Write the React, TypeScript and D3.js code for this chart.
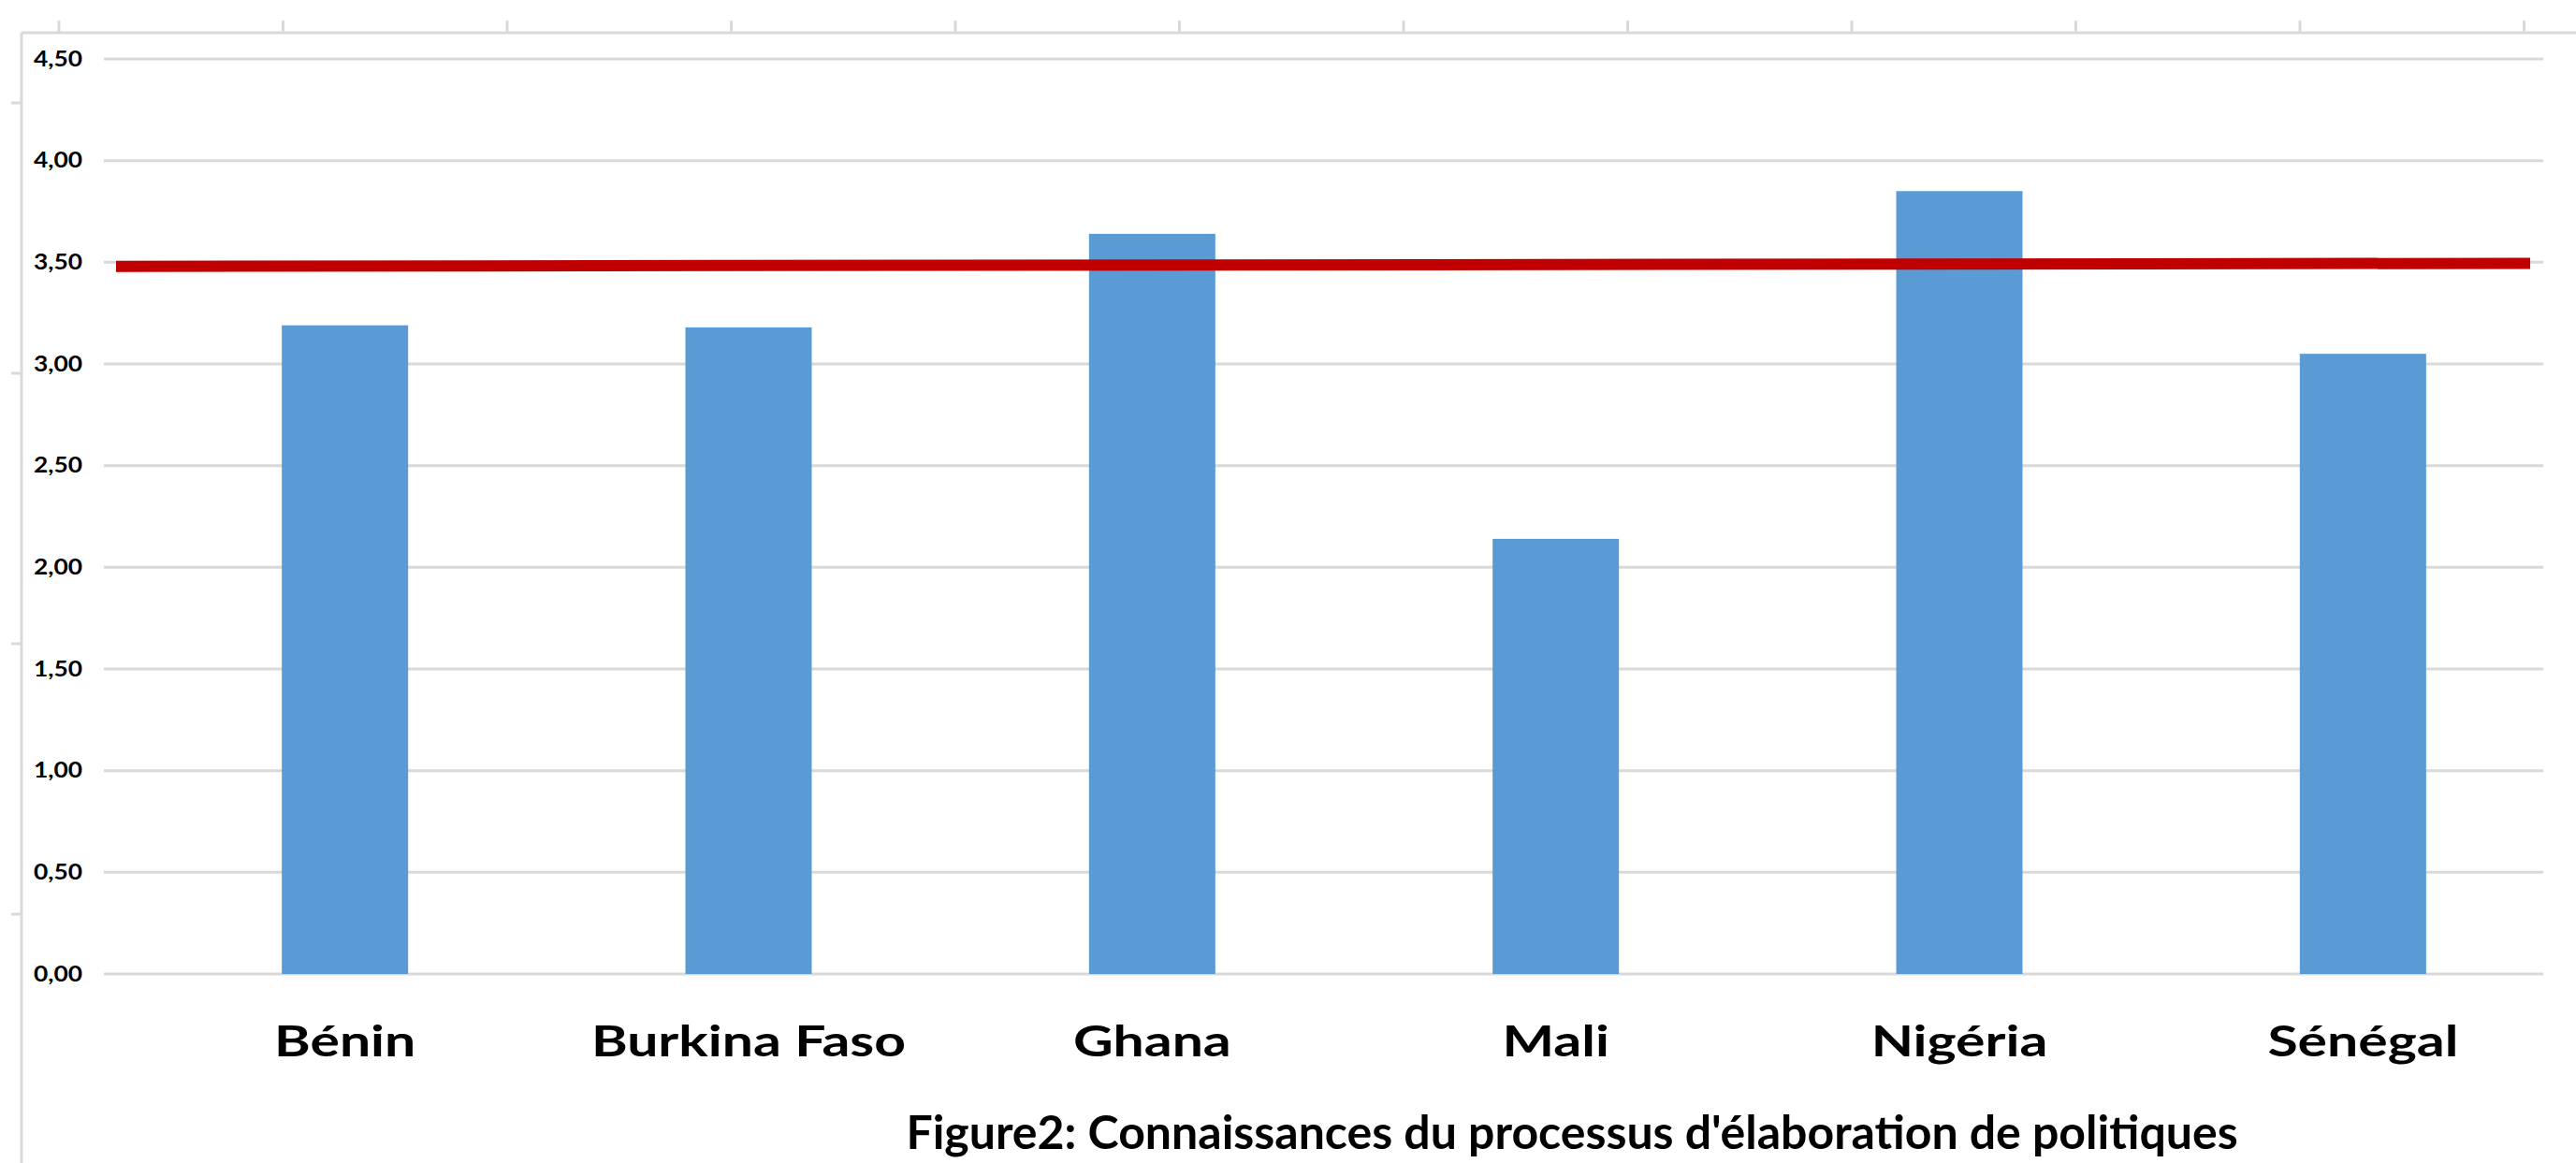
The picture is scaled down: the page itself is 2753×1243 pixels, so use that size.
import React from "react";
import * as d3 from "d3";

const categories = ["Bénin", "Burkina Faso", "Ghana", "Mali", "Nigéria", "Sénégal"];
const values = [3.19, 3.18, 3.64, 2.14, 3.85, 3.05];
const refLine = [3.48, 3.495];
const yTicks = [0, 0.5, 1, 1.5, 2, 2.5, 3, 3.5, 4, 4.5];
const title = "Figure2: Connaissances du processus d'élaboration de politiques";

const W = 2753;
const H = 1243;
const FONT = "Lato, 'Open Sans', sans-serif";

export default function App() {
  const y = d3.scaleLinear().domain([0, 4.5]).range([1041, 63]);
  const x = d3.scaleBand<string>().domain(categories).range([153, 2741]).paddingInner(0.687).paddingOuter(0.3435);
  const gridX0 = 111;
  const gridX1 = 2718;
  const fmt = (v: number) => d3.format(".2f")(v).replace(".", ",");
  const topTicks = d3.range(63, W, 239.5);
  const leftTicks = d3.range(110, H, 289);
  const line = d3.line<number>().x((_, i) => (i === 0 ? 124 : 2704)).y((d) => y(d));
  const sx = 1.28;

  return (
    <svg width={W} height={H} style={{ position: "absolute", left: 0, top: 0, background: "#fff" }} fontFamily={FONT}>
      <rect width={W} height={H} fill="#fff" />
      {/* page frame */}
      <line x1={23} x2={W} y1={35} y2={35} stroke="#d9d9d9" strokeWidth={3} />
      <line x1={23} x2={23} y1={35} y2={H} stroke="#d9d9d9" strokeWidth={3} />
      {topTicks.map((t, i) => (
        <line key={"tt" + i} x1={t} x2={t} y1={22} y2={35} stroke="#d9d9d9" strokeWidth={3} />
      ))}
      {leftTicks.map((t, i) => (
        <line key={"lt" + i} x1={12} x2={23} y1={t} y2={t} stroke="#d9d9d9" strokeWidth={3} />
      ))}
      {/* gridlines */}
      {yTicks.map((t) => (
        <g key={t}>
          <line x1={gridX0} x2={gridX1} y1={y(t)} y2={y(t)} stroke="#d9d9d9" strokeWidth={3} />
          <text
            transform={`translate(88,${y(t)}) scale(1.2,1)`}
            dy="0.35em"
            textAnchor="end"
            fontSize={22}
            fontWeight={700}
            fill="#000"
          >
            {fmt(t)}
          </text>
        </g>
      ))}
      {/* bars */}
      {categories.map((c, i) => (
        <rect key={c} x={x(c)} y={y(values[i])} width={x.bandwidth()} height={y(0) - y(values[i])} fill="#5B9BD5" />
      ))}
      {/* reference line */}
      <path d={line(refLine) || ""} stroke="#C00000" strokeWidth={12} fill="none" />
      {/* x labels */}
      {categories.map((c) => (
        <text
          key={"l" + c}
          transform={`translate(${(x(c) || 0) + x.bandwidth() / 2},1129) scale(${sx},1)`}
          textAnchor="middle"
          fontSize={46}
          fontWeight={700}
          fill="#000"
        >
          {c}
        </text>
      ))}
      <text transform={`translate(1680,1228)`} textAnchor="middle" fontSize={50} fontWeight={700} fill="#000">
        {title}
      </text>
    </svg>
  );
}
